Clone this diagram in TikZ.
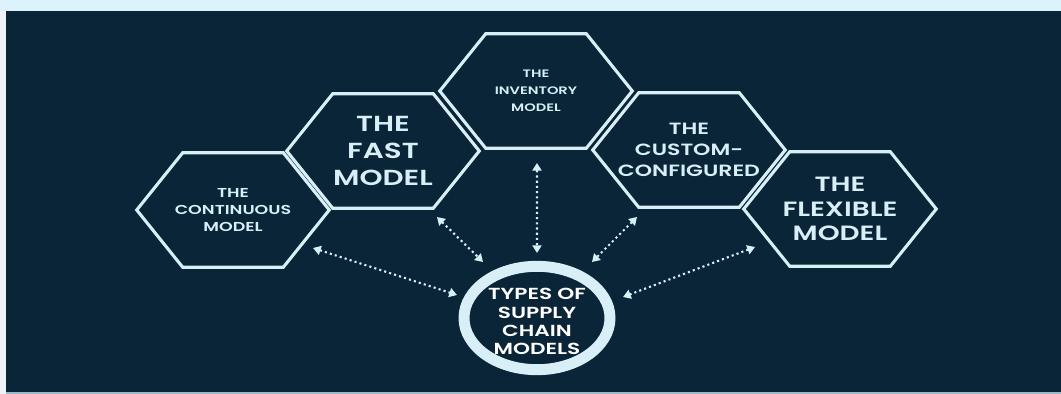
\documentclass[tikz,border=0pt]{standalone}
\usepackage{fontspec}
\setmainfont{Poppins}[FakeStretch=1.35,BoldFont={Poppins SemiBold}]
\usetikzlibrary{arrows.meta,positioning,shapes.geometric,calc}
\definecolor{scnavy}{HTML}{0A2438}
\definecolor{scice}{HTML}{D8EFF8}
\definecolor{scsky}{HTML}{DCF3FC}
\definecolor{scpaper}{HTML}{EEF2F4}
\definecolor{scrule}{HTML}{9FB8C6}

% outline of a flat-topped hexagon around a (4.8cm x 2.85cm) cell node
\newcommand{\hexframe}[1]{%
  \draw[hexline] (#1.west) -- ([xshift=1.15cm]#1.north west)
    -- ([xshift=-1.15cm]#1.north east) -- (#1.east)
    -- ([xshift=-1.15cm]#1.south east) -- ([xshift=1.15cm]#1.south west) -- cycle;}

\begin{document}
\begin{tikzpicture}[
  hexcell/.style={minimum width=4.8cm,minimum height=2.85cm,inner sep=0pt,
                  align=center,text=scice,font=\bfseries},
  hexline/.style={draw=scice,line width=2.2pt,line join=miter},
  hub/.style={ellipse,draw=scice,line width=7.8pt,minimum width=3.65cm,
              minimum height=2.325cm,inner sep=0pt,text=white,
              font=\bfseries\fontsize{11.4}{13}\selectfont},
  link/.style={scice,line width=1.5pt,dash pattern=on 1.5pt off 2.2pt,
               {Triangle[length=5.5pt,width=6.5pt]}-{Triangle[length=5.5pt,width=6.5pt]}}
]
\useasboundingbox (0,0) rectangle (26.525,-9.85);

% ---- Backdrop -----------------------------------------------
\fill[scsky]   (0,0) rectangle (26.525,-9.85);
\fill[scpaper] (0,-0.27) rectangle (0.15,-9.85);
\fill[scnavy]  (0.15,-0.27) rectangle (26.525,-9.8);
\fill[scrule]  (0.15,-9.8) rectangle (26.525,-9.85);

% ---- Model cells --------------------------------------------
\node[hexcell,font=\bfseries\fontsize{9.2}{12.4}\selectfont] (cont) at (5.825,-5.25)
  {THE\\CONTINUOUS\\MODEL};
\hexframe{cont}

\node[hexcell,font=\bfseries\fontsize{15.5}{19.4}\selectfont] (fast) at (9.575,-3.775)
  {THE\\FAST\\MODEL};
\hexframe{fast}

\node[hexcell,font=\bfseries\fontsize{7.7}{12.2}\selectfont] (inv) at (13.4,-2.275)
  {THE\\INVENTORY\\MODEL};
\hexframe{inv}

\node[hexcell,font=\bfseries\fontsize{11.6}{15}\selectfont] (custom) at (17.225,-3.75)
  {THE\\CUSTOM-\\CONFIGURED};
\hexframe{custom}

\node[hexcell,font=\bfseries\fontsize{14.7}{17.2}\selectfont] (flex) at (21.0,-5.225)
  {THE\\FLEXIBLE\\MODEL};
\hexframe{flex}

% ---- Hub ----------------------------------------------------
% text sits a little low in the ring
\node[hub] (hub) at (13.425,-7.95)
  {\raisebox{-4pt}[\height][\depth]{\begin{tabular}{@{}c@{}}
     TYPES OF\\SUPPLY\\CHAIN\\MODELS\end{tabular}}};

% Dotted two-way links
\draw[link] ($(cont)+(2.0,-0.95)$)     -- ($(hub)+(-2.0,0.575)$);
\draw[link] ($(fast)+(1.35,-1.65)$)    -- ($(hub)+(-1.35,1.4)$);
\draw[link] ($(inv)+(0.025,-1.8)$)     -- ($(hub)+(0,1.625)$);
\draw[link] ($(custom)+(-1.3,-1.675)$) -- ($(hub)+(1.375,1.4)$);
\draw[link] ($(flex)+(-2.125,-0.95)$)  -- ($(hub)+(2.15,0.525)$);

\end{tikzpicture}
\end{document}
